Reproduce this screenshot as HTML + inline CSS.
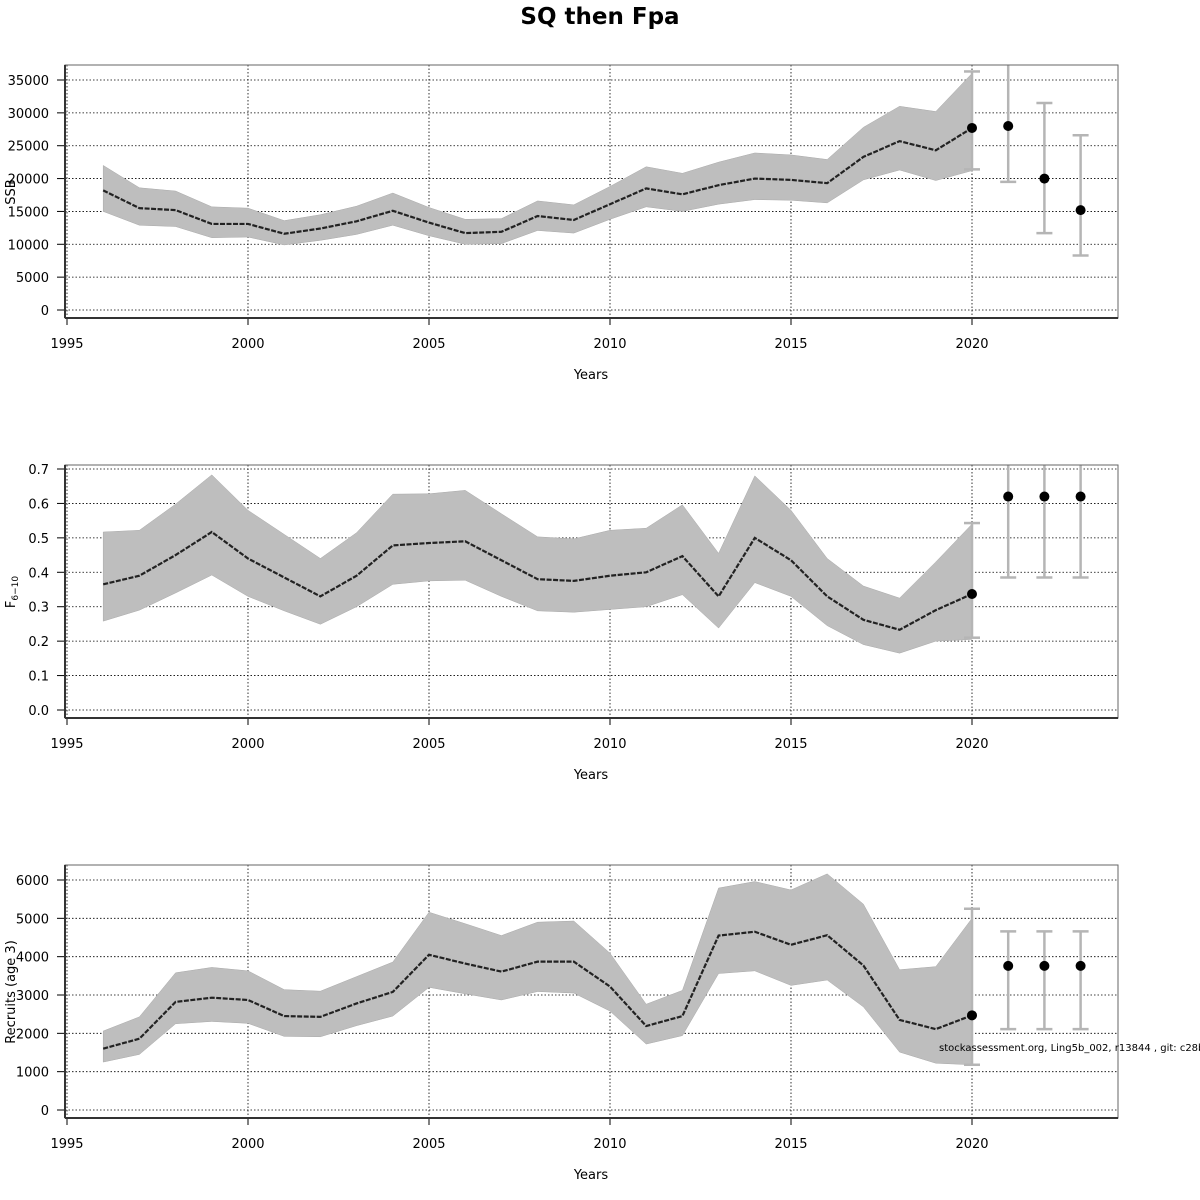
<!DOCTYPE html>
<html><head><meta charset="utf-8"><style>
html,body{margin:0;padding:0;background:#fff;}
svg{display:block;font-family:"DejaVu Sans","Liberation Sans",sans-serif;}
</style></head><body>
<svg id="chart" width="1200" height="1200" viewBox="0 0 1200 1200" xmlns="http://www.w3.org/2000/svg">
<text x="600" y="24" text-anchor="middle" font-size="23" font-weight="bold">SQ then Fpa</text>
</svg>
<script>
const years = [1996,1997,1998,1999,2000,2001,2002,2003,2004,2005,2006,2007,2008,2009,2010,2011,2012,2013,2014,2015,2016,2017,2018,2019,2020];
const xTicks = [1995,2000,2005,2010,2015,2020];
const projYears = [2020,2021,2022,2023];

const ssbMid = [18200,15500,15200,13100,13100,11600,12400,13500,15100,13300,11700,11900,14300,13700,16100,18500,17600,19000,20000,19800,19300,23300,25700,24300,27700];
const ssbUp = [22000,18600,18100,15700,15500,13600,14500,15800,17800,15600,13800,13900,16600,16000,18800,21800,20800,22500,23900,23600,22900,27800,31000,30200,36000];
const ssbLo = [15000,12900,12700,11000,11100,9900,10600,11500,12900,11300,10000,10100,12100,11700,13800,15700,15000,16100,16800,16700,16300,19800,21300,19700,21200];
const ssbProj = [27700,28000,20000,15200];
const ssbProjLo = [21400,19500,11700,8300];
const ssbProjUp = [36300,39000,31500,26600];
const ssbTicks = [0,5000,10000,15000,20000,25000,30000,35000];

const fMid = [0.365,0.39,0.45,0.517,0.44,0.385,0.33,0.39,0.478,0.485,0.49,0.435,0.38,0.375,0.39,0.40,0.447,0.33,0.50,0.435,0.33,0.262,0.233,0.29,0.337];
const fUp = [0.517,0.522,0.598,0.683,0.58,0.51,0.44,0.515,0.627,0.628,0.638,0.57,0.503,0.497,0.522,0.528,0.596,0.455,0.68,0.58,0.44,0.36,0.325,0.43,0.54];
const fLo = [0.258,0.29,0.34,0.392,0.33,0.288,0.249,0.30,0.365,0.375,0.377,0.33,0.288,0.284,0.292,0.30,0.335,0.238,0.37,0.33,0.245,0.19,0.165,0.20,0.205];
const fProj = [0.337,0.62,0.62,0.62];
const fProjLo = [0.21,0.385,0.385,0.385];
const fProjUp = [0.543,0.75,0.75,0.75];
const fTicks = [0,0.1,0.2,0.3,0.4,0.5,0.6,0.7];

const recMid = [1600,1860,2820,2930,2870,2450,2430,2780,3080,4050,3820,3610,3870,3870,3220,2190,2450,4550,4650,4310,4560,3770,2350,2110,2470];
const recUp = [2060,2430,3580,3720,3630,3140,3100,3480,3860,5160,4860,4550,4900,4930,4090,2760,3120,5790,5960,5740,6160,5370,3660,3740,5000];
const recLo = [1250,1450,2250,2310,2260,1920,1910,2200,2450,3200,3030,2870,3090,3050,2580,1720,1940,3560,3630,3250,3390,2690,1510,1220,1180];
const recProj = [2470,3760,3760,3760];
const recProjLo = [1180,2110,2110,2110];
const recProjUp = [5250,4660,4660,4660];
const recTicks = [0,1000,2000,3000,4000,5000,6000];

const NS = "http://www.w3.org/2000/svg";
const svg = document.getElementById("chart");
function mk(tag, attrs, parent){
  const e = document.createElementNS(NS, tag);
  for (const k in attrs) e.setAttribute(k, attrs[k]);
  (parent||svg).appendChild(e);
  return e;
}
const X0 = 65, X1 = 1118;
function xs(y){ return 67 + (y - 1995) * 36.2; }

function panel(id, top, yMin, yMax, yPix0, yPix1, ticks, fmt, mid, up, lo, proj, pLo, pUp, ylabel){
  const bottom = top + 253;
  const ys = v => yPix0 + (v - yMin) / (yMax - yMin) * (yPix1 - yPix0);
  const g = mk("g", {});
  
  
  const clip = mk("clipPath", {id: id + "-clip"}, g);
  mk("rect", {x: X0, y: top, width: X1 - X0, height: bottom - top}, clip);
  // grid
  ticks.forEach(t => {
    const l = mk("line", {x1: X0, x2: X1, y1: ys(t), y2: ys(t), stroke: "#000", "stroke-width": 0.8, "stroke-dasharray": "1.5,2"}, g);
    
    
    const tk = mk("line", {x1: 57, x2: X0, y1: ys(t), y2: ys(t), stroke: "#000", "stroke-width": 1}, g);
    
    
    const tx = mk("text", {x: 49, y: ys(t) + 5, "text-anchor": "end", "font-size": 13}, g);
    tx.textContent = fmt(t);
    
    
  });
  xTicks.forEach(t => {
    const l = mk("line", {x1: xs(t), x2: xs(t), y1: top, y2: bottom, stroke: "#000", "stroke-width": 0.8, "stroke-dasharray": "1.5,2"}, g);
    
    
    const tk = mk("line", {x1: xs(t), x2: xs(t), y1: bottom, y2: bottom + 7, stroke: "#000", "stroke-width": 1}, g);
    
    
    const tx = mk("text", {x: xs(t), y: bottom + 30, "text-anchor": "middle", "font-size": 13}, g);
    tx.textContent = t;
    
    
  });
  // band
  let d = "";
  years.forEach((y, i) => { d += (i ? "L" : "M") + xs(y) + "," + ys(up[i]); });
  for (let i = years.length - 1; i >= 0; i--) d += "L" + xs(years[i]) + "," + ys(lo[i]);
  const band = mk("path", {d: d + "Z", fill: "#bebebe", stroke: "#aaa", "stroke-width": 0.5, "clip-path": "url(#" + id + "-clip)"}, g);
  
  
  const pts = years.map((y, i) => xs(y) + "," + ys(mid[i])).join(" ");
  const ln = mk("polyline", {points: pts, fill: "none", stroke: "#222", "stroke-width": 2.2, "stroke-dasharray": "5,1.5"}, g);
  
  
  // projections
  projYears.forEach((y, i) => {
    const cg = mk("g", {"clip-path": "url(#" + id + "-clip)"}, g);
    const x = xs(y);
    const eb = mk("line", {x1: x, x2: x, y1: ys(pLo[i]), y2: ys(pUp[i]), stroke: "#b5b5b5", "stroke-width": 2.5}, cg);
    
    
    [pLo[i], pUp[i]].forEach(v => {
      const c = mk("line", {x1: x - 8, x2: x + 8, y1: ys(v), y2: ys(v), stroke: "#b5b5b5", "stroke-width": 2.5}, cg);
      
      
    });
    const pt = mk("circle", {cx: x, cy: ys(proj[i]), r: 5, fill: "#000"}, g);
    
    
  });
  // box
  const box = mk("rect", {x: X0, y: top, width: X1 - X0, height: bottom - top, fill: "none", stroke: "#666", "stroke-width": 1}, g);
  
  
  mk("line", {x1: X0, x2: X0, y1: top, y2: bottom, stroke: "#333", "stroke-width": 2}, g);
  mk("line", {x1: X0, x2: X1, y1: bottom, y2: bottom, stroke: "#333", "stroke-width": 2}, g);
  const xl = mk("text", {x: 591, y: bottom + 61, "text-anchor": "middle", "font-size": 13}, g);
  xl.textContent = "Years";
  
  
  const cy = top + 127;
  const yl = mk("text", {x: 0, y: 0, "text-anchor": "middle", "font-size": 13, transform: "translate(15," + cy + ") rotate(-90)"}, g);
  
  
  if (ylabel === "F") {
    yl.innerHTML = 'F<tspan font-size="9" dy="3">6\u221210</tspan>';
  } else yl.textContent = ylabel;
}

panel("ssb", 65, 0, 35000, 310, 80, ssbTicks, t => String(t), ssbMid, ssbUp, ssbLo, ssbProj, ssbProjLo, ssbProjUp, "SSB");
panel("f", 465, 0, 0.7, 710, 469, fTicks, t => t.toFixed(1), fMid, fUp, fLo, fProj, fProjLo, fProjUp, "F");
panel("rec", 865, 0, 6000, 1110, 880, recTicks, t => String(t), recMid, recUp, recLo, recProj, recProjLo, recProjUp, "Recruits (age 3)");

const foot = mk("text", {x: 939, y: 1051, "font-size": 10});
foot.textContent = "stockassessment.org, Ling5b_002, r13844 , git: c28bc";


</script>
</body></html>
